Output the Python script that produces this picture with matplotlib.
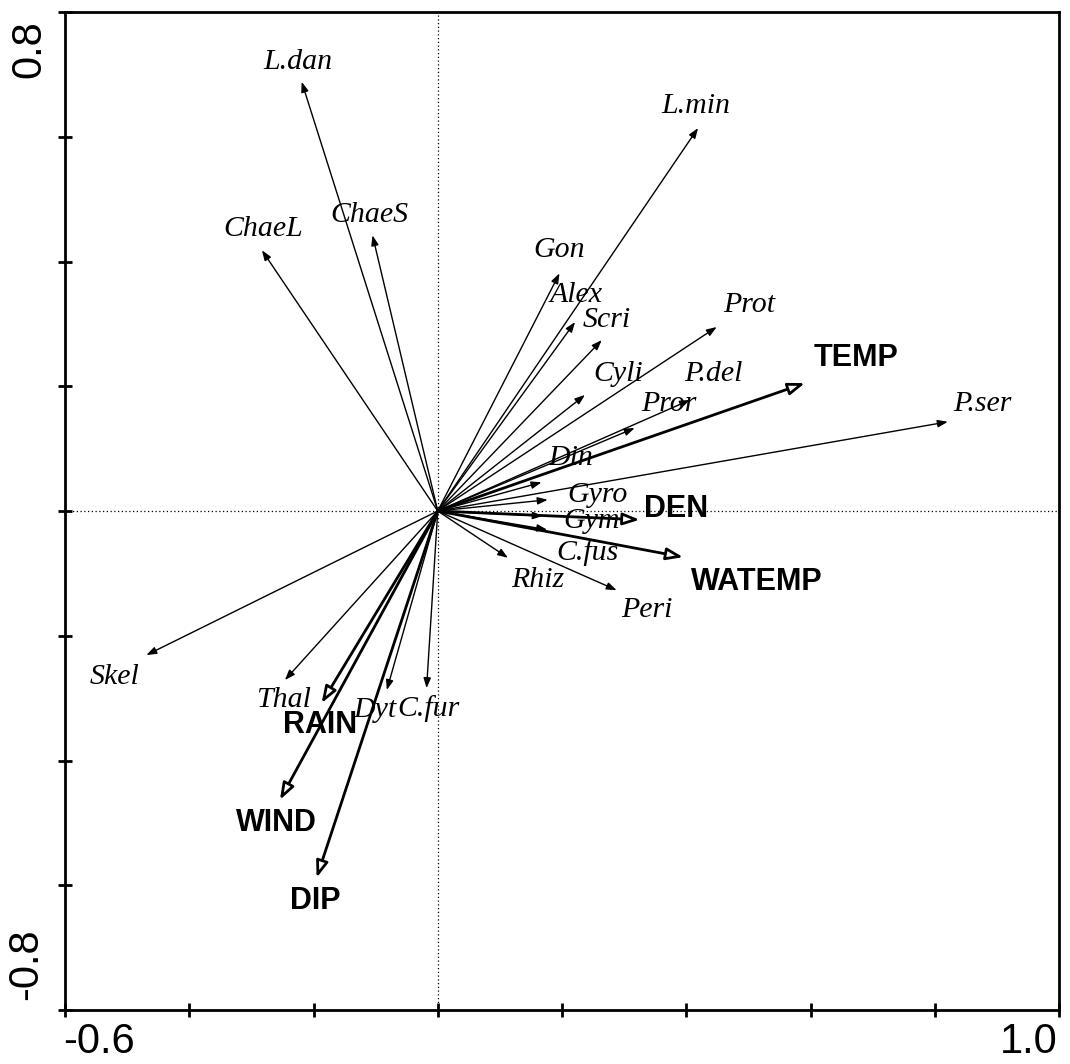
import matplotlib
matplotlib.use("Agg")
import matplotlib.pyplot as plt
from matplotlib.patches import FancyArrowPatch, ArrowStyle

# Species scores (axis 1, axis 2)
species = ["L.dan", "L.min", "ChaeL", "ChaeS", "Gon", "Alex", "Scri", "Cyli",
           "Prot", "P.del", "Pror", "P.ser", "Din", "Gyro", "Gym", "C.fus",
           "Rhiz", "Peri", "Skel", "Thal", "Dyt", "C.fur"]
species_x = [-0.219, 0.419, -0.283, -0.105, 0.196, 0.221, 0.264, 0.237,
             0.449, 0.406, 0.317, 0.821, 0.167, 0.177, 0.169, 0.176,
             0.113, 0.288, -0.469, -0.246, -0.082, -0.018]
species_y = [0.688, 0.614, 0.418, 0.442, 0.381, 0.303, 0.274, 0.186,
             0.295, 0.178, 0.133, 0.143, 0.046, 0.018, -0.008, -0.030,
             -0.075, -0.127, -0.231, -0.271, -0.287, -0.284]

# Environmental variables (biplot scores)
env = ["TEMP", "DEN", "WATEMP", "RAIN", "WIND", "DIP"]
env_x = [0.591, 0.325, 0.395, -0.187, -0.254, -0.195]
env_y = [0.205, -0.014, -0.074, -0.308, -0.463, -0.588]

x_ticks = [-0.6, -0.4, -0.2, 0.0, 0.2, 0.4, 0.6, 0.8, 1.0]
y_ticks = [-0.8, -0.6, -0.4, -0.2, 0.0, 0.2, 0.4, 0.6, 0.8]
x_end_labels = ["-0.6", "1.0"]
y_end_labels = ["-0.8", "0.8"]

# Label placement relative to arrow tips (pixels, y up)
label_offset = {
    "L.dan": (-4, 20), "L.min": (-2, 22), "ChaeL": (1, 21), "ChaeS": (-3, 20),
    "Gon": (0, 23), "Alex": (1, 27), "Scri": (5, 20), "Cyli": (33, 21),
    "Prot": (32, 22), "P.del": (23, 26), "Pror": (34, 24), "P.ser": (35, 18),
    "Din": (29, 24), "Gyro": (50, 5), "Gym": (49, -5), "C.fus": (40, -23),
    "Rhiz": (30, -22), "Peri": (30, -20), "Skel": (-32, -22), "Thal": (-1, -20),
    "Dyt": (-12, -20), "C.fur": (2, -20),
    "TEMP": (51, 25), "DEN": (36, 11), "WATEMP": (74, -25), "RAIN": (-2, -22),
    "WIND": (-4, -23), "DIP": (-1, -23),
}

W, H = 1070, 1064
fig = plt.figure(figsize=(W / 100, H / 100), dpi=100)
ax = fig.add_axes([65 / W, (H - 1010) / H, (1059 - 65) / W, (1010 - 12) / H])
ax.set_xlim(x_ticks[0], x_ticks[-1])
ax.set_ylim(y_ticks[0], y_ticks[-1])

for s in ax.spines.values():
    s.set_linewidth(2.0)
ax.set_xticks(x_ticks)
ax.set_yticks(y_ticks)
ax.set_xticklabels([])
ax.set_yticklabels([])
ax.tick_params(direction="inout", length=10, width=2.0)

ax.axhline(0, color="black", lw=0.9, ls=(0, (1, 2)), zorder=1)
ax.axvline(0, color="black", lw=0.9, ls=(0, (1, 2)), zorder=1)

serif = ["Liberation Serif", "DejaVu Serif"]
sans = ["Liberation Sans", "DejaVu Sans"]

sp_style = ArrowStyle("-|>", head_length=6, head_width=2.2)
for name, x, y in zip(species, species_x, species_y):
    ax.add_patch(FancyArrowPatch((0, 0), (x, y), arrowstyle=sp_style,
                                 mutation_scale=1, lw=1.0, color="black",
                                 shrinkA=0, shrinkB=0, zorder=3))
    dx, dy = label_offset[name]
    ax.annotate(name, (x, y), xytext=(dx, dy), textcoords="offset pixels",
                ha="center", va="center", fontsize=21.5, style="italic",
                family=serif, zorder=4)

env_style = ArrowStyle("-|>", head_length=10, head_width=3.6)
for name, x, y in zip(env, env_x, env_y):
    ax.add_patch(FancyArrowPatch((0, 0), (x, y), arrowstyle=env_style,
                                 mutation_scale=1, lw=2.0, ec="black",
                                 fc="white", shrinkA=0, shrinkB=0, zorder=3))
    dx, dy = label_offset[name]
    ax.annotate(name, (x, y), xytext=(dx, dy), textcoords="offset pixels",
                ha="center", va="center", fontsize=22, fontweight="bold",
                family=sans, zorder=4)

# End labels of the axes
fig.text(63 / W, (H - 1062) / H, x_end_labels[0], ha="left", va="bottom",
         fontsize=30, family=sans)
fig.text(1058 / W, (H - 1062) / H, x_end_labels[1], ha="right", va="bottom",
         fontsize=30, family=sans)
fig.text(29 / W, (H - 20) / H, y_end_labels[1], ha="center", va="top",
         rotation=90, fontsize=30, family=sans)
fig.text(26 / W, (H - 1000) / H, y_end_labels[0], ha="center", va="bottom",
         rotation=90, fontsize=30, family=sans)

fig.savefig("out.png", dpi=100, facecolor="white")
